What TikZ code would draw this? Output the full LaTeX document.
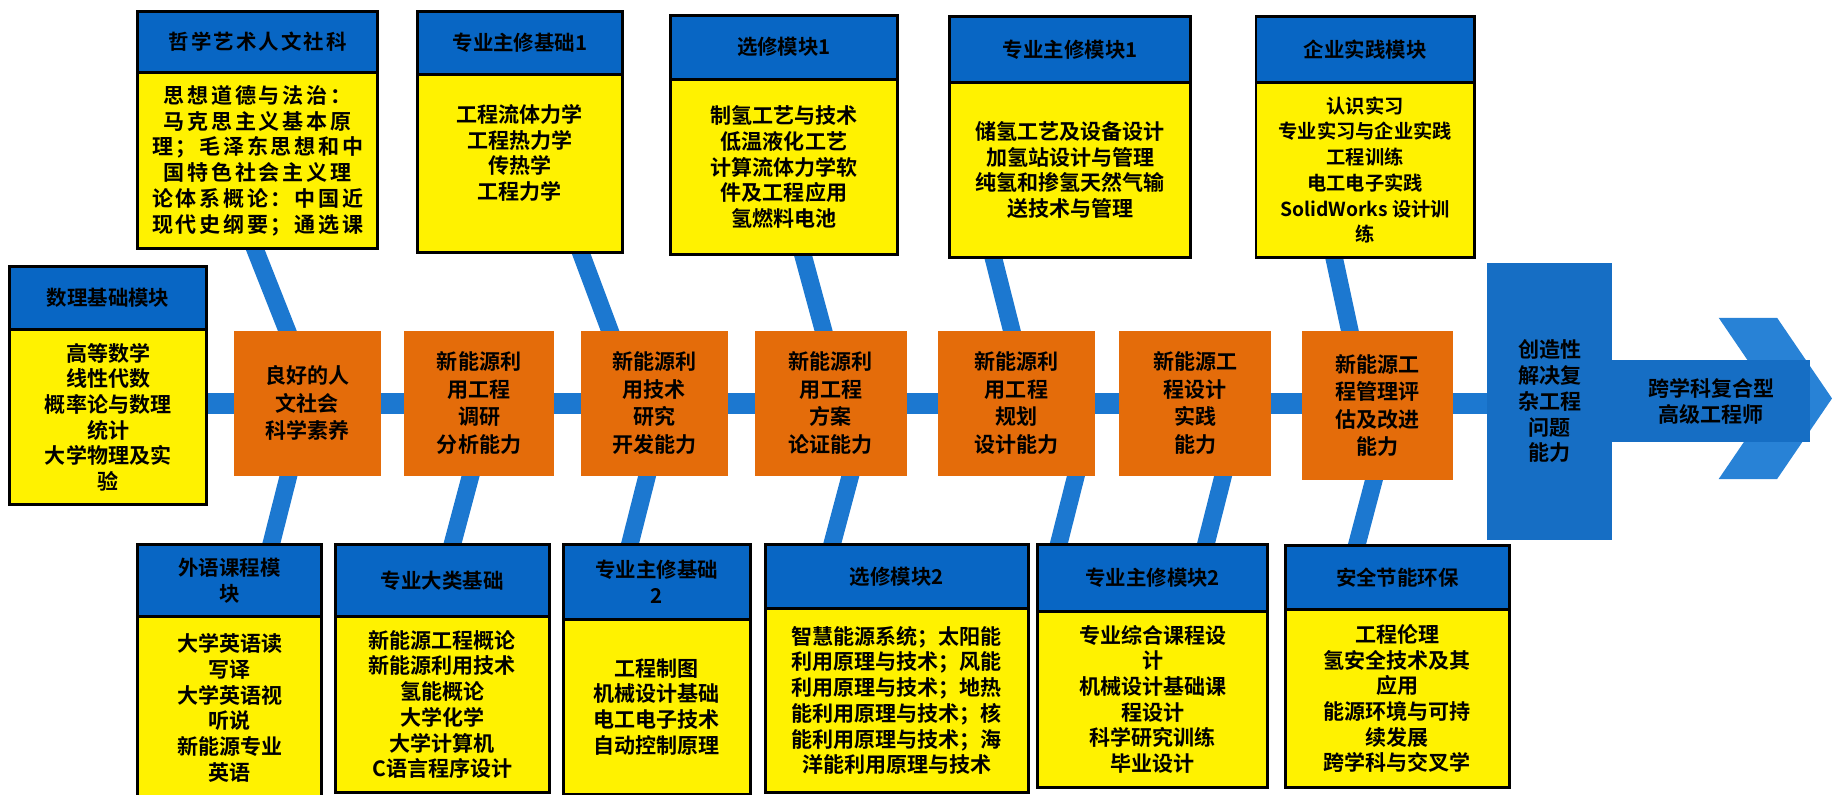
\documentclass[tikz,border=0pt]{standalone}
\usepackage{fontspec}
\setmainfont{Noto Sans CJK SC}[BoldFont=* Bold]
\usetikzlibrary{positioning,calc,backgrounds}
\definecolor{hdrblue}{RGB}{8,102,196}
\definecolor{lnblue}{RGB}{28,120,208}
\definecolor{bigblue}{RGB}{22,110,196}
\definecolor{arrblue}{RGB}{40,130,214}
\definecolor{capor}{RGB}{228,108,10}

\begin{document}
\begin{tikzpicture}[x=1pt,y=-1pt,
	hdr/.style={draw,line width=2.5pt,fill=hdrblue,outer sep=0pt,align=center,
		font=\bfseries\fontsize{17.5}{22}\selectfont},
	crs/.style={draw,line width=2.5pt,fill=yellow,outer sep=0pt,align=center,
		font=\bfseries\fontsize{18}{22}\selectfont},
	capbox/.style={fill=capor,outer sep=0pt,align=center,minimum height=124pt,
		font=\bfseries\fontsize{18}{23.5}\selectfont},
	bigbox/.style={fill=bigblue,outer sep=0pt,align=center,
		font=\bfseries\fontsize{18}{22}\selectfont},
	spine/.style={lnblue,line width=18pt},
	branch/.style={lnblue,line width=15pt}]
	\useasboundingbox (0,0) rectangle (1568,680);

	\node[hdr,minimum width=205pt,minimum height=52pt,
		font=\bfseries\fontsize{17.5}{22}\selectfont\addfontfeature{LetterSpace=10}] (phil) at (220.5,36) {哲学艺术人文社科};
	\node[crs,minimum width=205pt,minimum height=151pt,below=0pt of phil,
		font=\bfseries\fontsize{18}{22}\selectfont\addfontfeature{LetterSpace=13}] (philb) {思想道德与法治：\\马克思主义基本原\\理；毛泽东思想和中\\国特色社会主义理\\论体系概论：中国近\\现代史纲要；通选课};
	\node[hdr,minimum width=176pt,minimum height=54pt] (core1) at (445,37) {专业主修基础1};
	\node[crs,minimum width=176pt,minimum height=152pt,text depth=20pt,below=0pt of core1] (core1b) {工程流体力学\\工程热力学\\传热学\\工程力学};
	\node[hdr,minimum width=194pt,minimum height=55pt] (elec1) at (671,40.5) {选修模块1};
	\node[crs,minimum width=194pt,minimum height=150pt,below=0pt of elec1] (elec1b) {制氢工艺与技术\\低温液化工艺\\计算流体力学软\\件及工程应用\\氢燃料电池};
	\node[hdr,minimum width=206pt,minimum height=57pt] (major1) at (916,42.5) {专业主修模块1};
	\node[crs,minimum width=206pt,minimum height=149pt,below=0pt of major1] (major1b) {储氢工艺及设备设计\\加氢站设计与管理\\纯氢和掺氢天然气输\\送技术与管理};
	\node[hdr,minimum width=187pt,minimum height=57pt] (prac) at (1168.5,42.5) {企业实践模块};
	\node[crs,minimum width=187pt,minimum height=149pt,below=0pt of prac,
		font=\bfseries\fontsize{16.5}{22}\selectfont] (pracb) {认识实习\\专业实习与企业实践\\工程训练\\电工电子实践\\SolidWorks 设计训\\练};
	\node[hdr,minimum width=169pt,minimum height=54pt] (math) at (92.5,255) {数理基础模块};
	\node[crs,minimum width=169pt,minimum height=150pt,below=0pt of math] (mathb) {高等数学\\线性代数\\概率论与数理\\统计\\大学物理及实\\验};

	\node[capbox,minimum width=126pt] (cap1) at (263,345) {良好的人\\文社会\\科学素养};
	\node[capbox,minimum width=128pt] (cap2) at (410,345) {新能源利\\用工程\\调研\\分析能力};
	\node[capbox,minimum width=126pt] (cap3) at (560,345) {新能源利\\用技术\\研究\\开发能力};
	\node[capbox,minimum width=130pt] (cap4) at (711,345) {新能源利\\用工程\\方案\\论证能力};
	\node[capbox,minimum width=134pt] (cap5) at (870,345) {新能源利\\用工程\\规划\\设计能力};
	\node[capbox,minimum width=130pt] (cap6) at (1023,345) {新能源工\\程设计\\实践\\能力};
	\node[capbox,minimum width=130pt,minimum height=128pt] (cap7) at (1179,347) {新能源工\\程管理评\\估及改进\\能力};
	\node[bigbox,minimum width=107pt,minimum height=237pt] (solve) at (1326.5,343.5) {创造性\\解决复\\杂工程\\问题\\能力};
	\node[bigbox,minimum width=169pt,minimum height=70pt,right=0pt of solve] (eng) {跨学科复合型\\高级工程师};

	\node[hdr,minimum width=157pt,minimum height=62pt] (lang) at (196.5,497) {外语课程模\\块};
	\node[crs,minimum width=157pt,minimum height=156pt,below=0pt of lang] (langb) {大学英语读\\写译\\大学英语视\\听说\\新能源专业\\英语};
	\node[hdr,minimum width=183pt,minimum height=62pt] (base) at (378.5,497) {专业大类基础};
	\node[crs,minimum width=183pt,minimum height=150pt,below=0pt of base] (baseb) {新能源工程概论\\新能源利用技术\\氢能概论\\大学化学\\大学计算机\\C语言程序设计};
	\node[hdr,minimum width=160pt,minimum height=64pt] (core2) at (562,498) {专业主修基础\\2};
	\node[crs,minimum width=160pt,minimum height=150pt,below=0pt of core2] (core2b) {工程制图\\机械设计基础\\电工电子技术\\自动控制原理};
	\node[hdr,minimum width=225pt,minimum height=55pt] (elec2) at (767.5,493.5) {选修模块2};
	\node[crs,minimum width=225pt,minimum height=157pt,below=0pt of elec2] (elec2b) {智慧能源系统；太阳能\\利用原理与技术；风能\\利用原理与技术；地热\\能利用原理与技术；核\\能利用原理与技术；海\\洋能利用原理与技术};
	\node[hdr,minimum width=197pt,minimum height=57pt] (major2) at (986.5,494.5) {专业主修模块2};
	\node[crs,minimum width=197pt,minimum height=151pt,below=0pt of major2] (major2b) {专业综合课程设\\计\\机械设计基础课\\程设计\\科学研究训练\\毕业设计};
	\node[hdr,minimum width=192pt,minimum height=55pt] (safe) at (1196,494.5) {安全节能环保};
	\node[crs,minimum width=192pt,minimum height=152pt,below=0pt of safe] (safeb) {工程伦理\\氢安全技术及其\\应用\\能源环境与可持\\续发展\\跨学科与交叉学};

	\begin{pgfonlayer}{background}
		\fill[arrblue] (1471,272) -- (1521,272) -- (1568,341) -- (1521,410) -- (1471,410) -- (1518,341) -- cycle;
		\draw[spine] (mathb.east |- cap1) -- (solve.west |- cap1);
		\draw[branch] ($(philb.south west)+(97,-8)$) -- ($(cap1.north west)+(49,8)$);
		\draw[branch] ($(core1b.south west)+(137,-8)$) -- ($(cap3.north west)+(28,8)$);
		\draw[branch] ($(elec1b.south west)+(111,-8)$) -- ($(cap4.north west)+(61,8)$);
		\draw[branch] ($(major1b.south west)+(35,-8)$) -- ($(cap5.north west)+(65,8)$);
		\draw[branch] ($(pracb.south west)+(65,-8)$) -- ($(cap7.north west)+(43,8)$);
		\draw[branch] ($(cap1.south west)+(49,-8)$) -- ($(lang.north west)+(112,8)$);
		\draw[branch] ($(cap2.south west)+(59,-8)$) -- ($(base.north west)+(98,8)$);
		\draw[branch] ($(cap3.south west)+(59,-8)$) -- ($(core2.north west)+(55,8)$);
		\draw[branch] ($(cap4.south west)+(84,-8)$) -- ($(elec2.north west)+(55,8)$);
		\draw[branch] ($(cap5.south west)+(120,-8)$) -- ($(major2.north west)+(16,8)$);
		\draw[branch] ($(cap6.south west)+(91,-8)$) -- ($(major2.north west)+(142,8)$);
		\draw[branch] ($(cap7.south west)+(64,-8)$) -- ($(safe.north west)+(59,8)$);
	\end{pgfonlayer}
\end{tikzpicture}
\end{document}
